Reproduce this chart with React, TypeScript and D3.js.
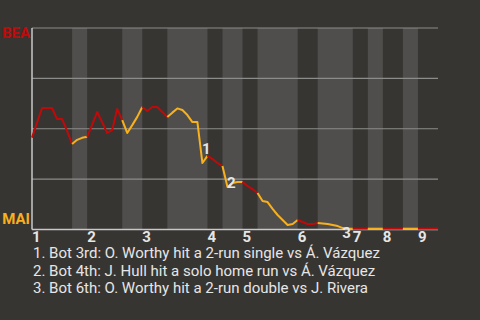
import React from "react";
import * as d3 from "d3";

const winProb = [
  0.456, 0.53, 0.603, 0.603, 0.603, 0.548, 0.548, 0.49, 0.424, 0.445,
  0.455, 0.46, 0.52, 0.583, 0.533, 0.479, 0.494, 0.598, 0.543, 0.479,
  0.518, 0.559, 0.608, 0.588, 0.608, 0.608, 0.583, 0.558, 0.58, 0.601,
  0.593, 0.568, 0.533, 0.533, 0.33, 0.365, 0.35, 0.33, 0.315, 0.211,
  0.231, 0.236, 0.236, 0.216, 0.2, 0.181, 0.141, 0.136, 0.102, 0.072,
  0.047, 0.022, 0.027, 0.047, 0.037, 0.027, 0.027, 0.032, 0.03, 0.027,
  0.022, 0.017, 0.007, 0.004, 0.004, 0.004, 0.004, 0.004, 0.004, 0.004,
  0.004, 0.004, 0.004, 0.004, 0.004, 0.004, 0.004, 0.004, 0.004, 0.004,
  0.004, 0.004,
];

// start index of each half-inning (top 1, bot 1, top 2, ...), last = end
const halfStarts = [0, 8, 11, 18, 22, 27, 35, 38, 42, 45, 53, 57, 64, 67, 70, 74, 77, 81];
const inningLabels = ["1", "2", "3", "4", "5", "6", "7", "8", "9"];
const yTicks = [0.25, 0.5, 0.75, 1];

const annotationIdx = [34, 39, 62];
const annotationLabels = ["1", "2", "3"];
const notes = [
  "1. Bot 3rd: O. Worthy hit a 2-run single vs Á. Vázquez",
  "2. Bot 4th: J. Hull hit a solo home run vs Á. Vázquez",
  "3. Bot 6th: O. Worthy hit a 2-run double vs J. Rivera",
];
const topTeam = "BEA";
const bottomTeam = "MAI";

const W = 480;
const H = 320;
const BG = "#373532";
const SHADE = "#4f4e4c";
const RED = "#c00a0a";
const GOLD = "#f8b01c";
const TEXT = "#e6e6e6";

export default function App() {
  const x = d3.scaleLinear().domain([0, winProb.length - 1]).range([32, 438]);
  const y = d3.scaleLinear().domain([0, 1]).range([229.5, 28]);

  const halves = halfStarts.slice(0, -1).map((s, k) => ({
    start: s,
    end: halfStarts[k + 1],
    bottom: k % 2 === 1,
  }));

  return (
    <div style={{ position: "fixed", left: 0, top: 0 }}>
      <style>{`body{margin:0;}`}</style>
      <svg width={W} height={H} style={{ display: "block", fontFamily: "Roboto, sans-serif" }}>
        <rect x={0} y={0} width={W} height={H} fill={BG} />
        {halves
          .filter((h) => h.bottom)
          .map((h, k) => (
            <rect
              key={k}
              x={x(h.start)}
              y={y(1)}
              width={x(h.end) - x(h.start)}
              height={y(0) - y(1)}
              fill={SHADE}
            />
          ))}
        {yTicks.map((t) => (
          <line key={t} x1={x(0)} x2={x(winProb.length - 1)} y1={y(t)} y2={y(t)} stroke="#8c8c8a" strokeWidth={1.2} />
        ))}
        <line x1={x(0)} x2={x(winProb.length - 1)} y1={y(0)} y2={y(0)} stroke="#c8c8c8" strokeWidth={1.5} />
        <line x1={x(0)} x2={x(0)} y1={y(1)} y2={y(0)} stroke="#c8c8c8" strokeWidth={1.5} />
        {halves.map((h, k) => {
          const seg = winProb.slice(h.start, h.end + 1);
          const path = d3
            .line<number>()
            .x((_, i) => x(h.start + i))
            .y((d) => y(d))(seg);
          return (
            <path
              key={k}
              d={path || ""}
              fill="none"
              stroke={h.bottom ? GOLD : RED}
              strokeWidth={2}
              strokeLinejoin="round"
            />
          );
        })}
        {annotationIdx.map((idx, k) => {
          const mid = (y(winProb[idx - 1]) + y(winProb[idx])) / 2;
          return (
            <text key={k} x={x(idx) - 0.5} y={mid + 11} fill={TEXT} fontSize={15} fontWeight="bold">
              {annotationLabels[k]}
            </text>
          );
        })}
        {halves
          .filter((h) => !h.bottom)
          .map((h, k) => (
            <text key={k} x={x(h.start)} y={242} fill={TEXT} fontSize={15} fontWeight="bold">
              {inningLabels[k]}
            </text>
          ))}
        <text x={30} y={38} textAnchor="end" fill={RED} fontSize={15} fontWeight="bold">
          {topTeam}
        </text>
        <text x={30} y={224} textAnchor="end" fill={GOLD} fontSize={15} fontWeight="bold">
          {bottomTeam}
        </text>
        {notes.map((n, k) => (
          <text key={k} x={33} y={258 + k * 17.5} fill={TEXT} fontSize={15}>
            {n}
          </text>
        ))}
      </svg>
    </div>
  );
}
